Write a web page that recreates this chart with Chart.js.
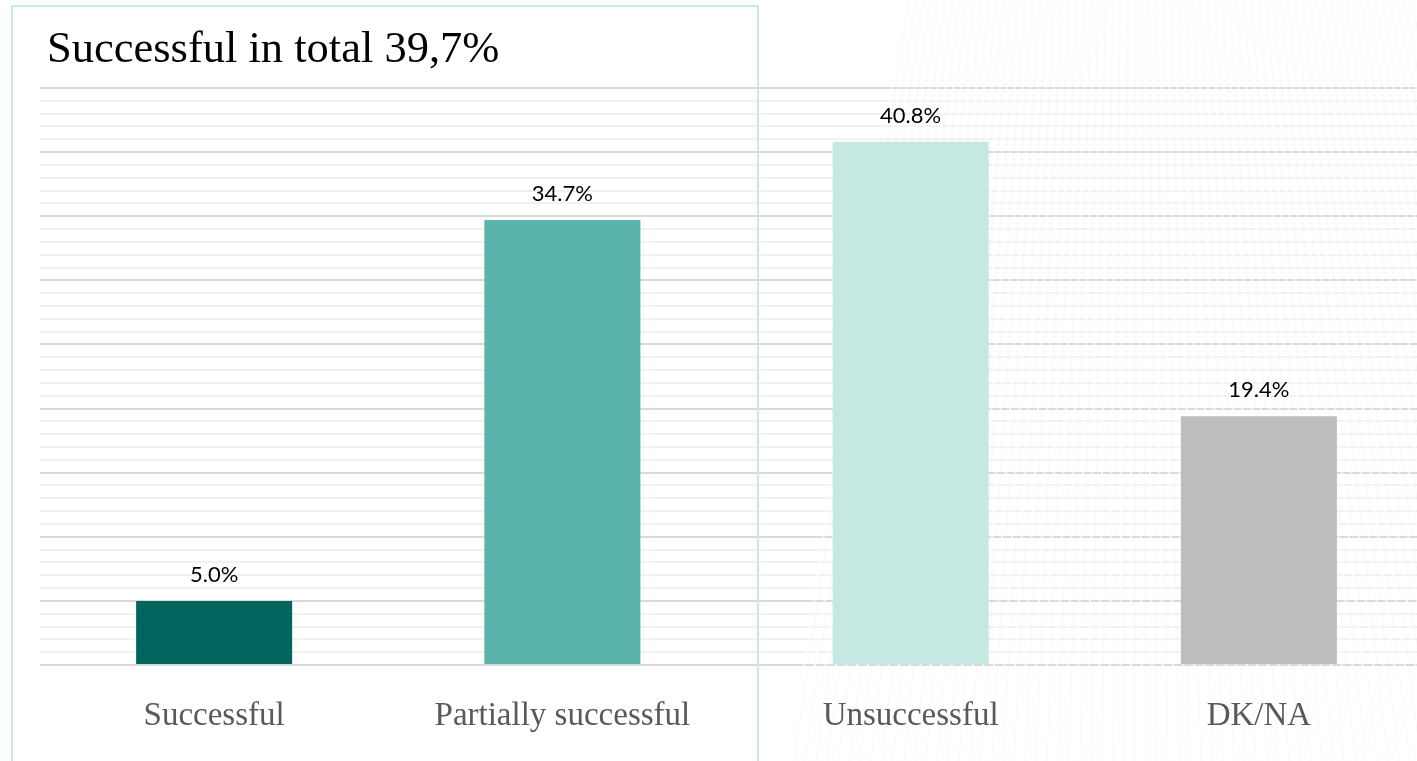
<!DOCTYPE html>
<html>
<head>
<meta charset="utf-8">
<script src="https://cdn.jsdelivr.net/npm/chart.js@4/dist/chart.umd.min.js"></script>
<style>
  html, body { margin: 0; padding: 0; background: #ffffff; overflow: hidden; }
  #wrap { position: absolute; left: 0; top: 0; width: 1433px; height: 761px; }
</style>
</head>
<body>
<div id="wrap"><canvas id="c"></canvas></div>
<script>
const categories = ['Successful', 'Partially successful', 'Unsuccessful', 'DK/NA'];
const shares = [5.0, 34.7, 40.8, 19.4];
const barColors = ['#02665e', '#5bb4ac', '#c6e8e2', '#bdbdbd'];
const headline = 'Successful in total 39,7%';

// one fan of thin strokes, converging towards a point above the canvas
function drawFan(ctx, white) {
  const vx = 1130, vy = -1500;
  for (let xb = 790; xb <= 1620; xb += 11) {
    const t0 = (0 - vy) / (761 - vy);
    const xt = vx + (xb - vx) * t0;
    ctx.beginPath();
    if (white) {
      ctx.moveTo(xt, 0);
      ctx.lineTo(xb, 761);
      ctx.lineWidth = 2;
      ctx.strokeStyle = 'rgba(255,255,255,0.7)';
    } else {
      ctx.moveTo(xt + 4, 0);
      ctx.lineTo(xb + 4, 761);
      ctx.lineWidth = 1;
      ctx.strokeStyle = 'rgba(0,0,0,0.028)';
    }
    ctx.stroke();
  }
}

const decor = {
  id: 'decor',
  beforeDraw(chart) {
    const ctx = chart.ctx;
    ctx.save();
    drawFan(ctx, false);
    ctx.restore();
  },
  beforeDatasetsDraw(chart) {
    const ctx = chart.ctx;
    const a = chart.chartArea;
    ctx.save();
    ctx.beginPath();
    ctx.rect(a.left, a.top - 2, a.right - a.left, a.bottom - a.top + 4);
    ctx.clip();
    drawFan(ctx, true);
    ctx.restore();
  },
  afterDatasetsDraw(chart) {
    const ctx = chart.ctx;
    const meta = chart.getDatasetMeta(0);
    ctx.save();
    ctx.fillStyle = '#000000';
    ctx.font = '22px Lato, "Liberation Sans", sans-serif';
    ctx.textAlign = 'center';
    ctx.textBaseline = 'alphabetic';
    meta.data.forEach((bar, i) => {
      ctx.fillText(shares[i].toFixed(1) + '%', bar.x, bar.y - 19);
    });
    ctx.restore();
  },
  afterDraw(chart) {
    const ctx = chart.ctx;
    ctx.save();
    ctx.strokeStyle = '#c9ebe5';
    ctx.lineWidth = 2;
    ctx.strokeRect(12, 6, 746, 780);
    ctx.fillStyle = '#000000';
    ctx.font = '44.5px "Liberation Serif", serif';
    ctx.textAlign = 'left';
    ctx.textBaseline = 'alphabetic';
    ctx.fillText(headline, 47, 62);
    ctx.restore();
  }
};

new Chart(document.getElementById('c'), {
  type: 'bar',
  data: {
    labels: categories,
    datasets: [{
      data: shares,
      backgroundColor: barColors,
      borderWidth: 0,
      barPercentage: 1,
      categoryPercentage: 0.448
    }]
  },
  options: {
    responsive: true,
    maintainAspectRatio: false,
    animation: false,
    layout: { padding: { left: 40, top: 88, right: 0, bottom: 0 } },
    plugins: { legend: { display: false }, tooltip: { enabled: false } },
    scales: {
      x: {
        grid: { display: false, drawTicks: false },
        border: { display: false },
        afterFit: (s) => { s.height = 96; },
        ticks: {
          color: '#595959',
          padding: 32,
          font: { family: '"Liberation Serif", serif', size: 33 }
        }
      },
      y: {
        min: 0,
        max: 45,
        border: { display: false },
        afterFit: (s) => { s.width = 0; },
        ticks: { display: false, stepSize: 1, maxTicksLimit: 60 },
        grid: {
          drawTicks: false,
          lineWidth: 2,
          color: (c) => (c.tick && c.tick.value % 5 === 0) ? '#d9d9d9' : '#f1f1f1'
        }
      }
    }
  },
  plugins: [decor]
});
</script>
</body>
</html>
